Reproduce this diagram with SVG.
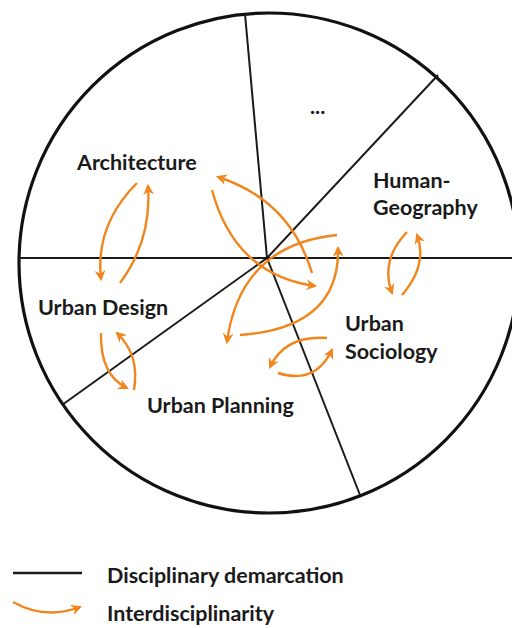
<svg xmlns="http://www.w3.org/2000/svg" width="512" height="628" viewBox="0 0 512 628">
<style>
.lbl{font-family:Lato,"Open Sans","Liberation Sans",sans-serif;font-weight:bold;font-size:21.5px;fill:#1a1a1a}
.div{stroke:#1a1a1a;stroke-width:2;fill:none}
.arr{stroke:#f0861e;stroke-width:2.4;fill:none;marker-end:url(#ah)}
</style>
<defs>
<marker id="ah" viewBox="0 0 10 10" refX="8" refY="5" markerWidth="4.5" markerHeight="4.5" orient="auto" markerUnits="strokeWidth">
<path d="M0,0 L10,5 L0,10 L3,5 z" fill="#f0861e"/>
</marker>
</defs>
<rect width="512" height="628" fill="#fff"/>
<g id="boundaries">
<circle cx="269" cy="263" r="250" fill="none" stroke="#111" stroke-width="3.2"/>
<line class="div" x1="19" y1="258" x2="512" y2="258"/>
<line class="div" x1="267" y1="258" x2="245" y2="14"/>
<line class="div" x1="267" y1="258" x2="438" y2="75"/>
<line class="div" x1="267" y1="258" x2="360" y2="495"/>
<line class="div" x1="267" y1="258" x2="62" y2="405"/>
</g>
<g id="architecture"><text class="lbl" x="77" y="170">Architecture</text></g>
<g id="other"><text class="lbl" x="310" y="114">...</text></g>
<g id="human-geography"><text class="lbl" x="373" y="188">Human-</text><text class="lbl" x="373" y="215">Geography</text></g>
<g id="urban-design"><text class="lbl" x="38" y="315">Urban Design</text></g>
<g id="urban-sociology"><text class="lbl" x="345" y="331">Urban</text><text class="lbl" x="345" y="359">Sociology</text></g>
<g id="urban-planning"><text class="lbl" x="147" y="413">Urban Planning</text></g>
<g id="connectors">
<path class="arr" d="M137,183 Q95,225 101,279"/>
<path class="arr" d="M120,283 Q152,240 148,186"/>
<path class="arr" d="M101,333 Q100,375 127,388"/>
<path class="arr" d="M134,390 Q140,355 117,333"/>
<path class="arr" d="M407,232 Q380,260 392,293"/>
<path class="arr" d="M402,295 Q428,265 417,235"/>
<path class="arr" d="M327,338 Q285,335 270,367"/>
<path class="arr" d="M278,373 Q315,385 332,350"/>
<path class="arr" d="M312,273 Q290,200 218,177"/>
<path class="arr" d="M212,190 Q235,275 315,286"/>
<path class="arr" d="M337,235 Q240,245 227,342"/>
<path class="arr" d="M240,335 Q340,328 338,248"/>
</g>
<g id="legend">
<line x1="13" y1="573" x2="82" y2="573" stroke="#1a1a1a" stroke-width="2.5"/>
<text class="lbl" x="107" y="583">Disciplinary demarcation</text>
<path class="arr" d="M13,602 Q45,620 80,607"/>
<text class="lbl" x="107" y="621">Interdisciplinarity</text>
</g>
</svg>
